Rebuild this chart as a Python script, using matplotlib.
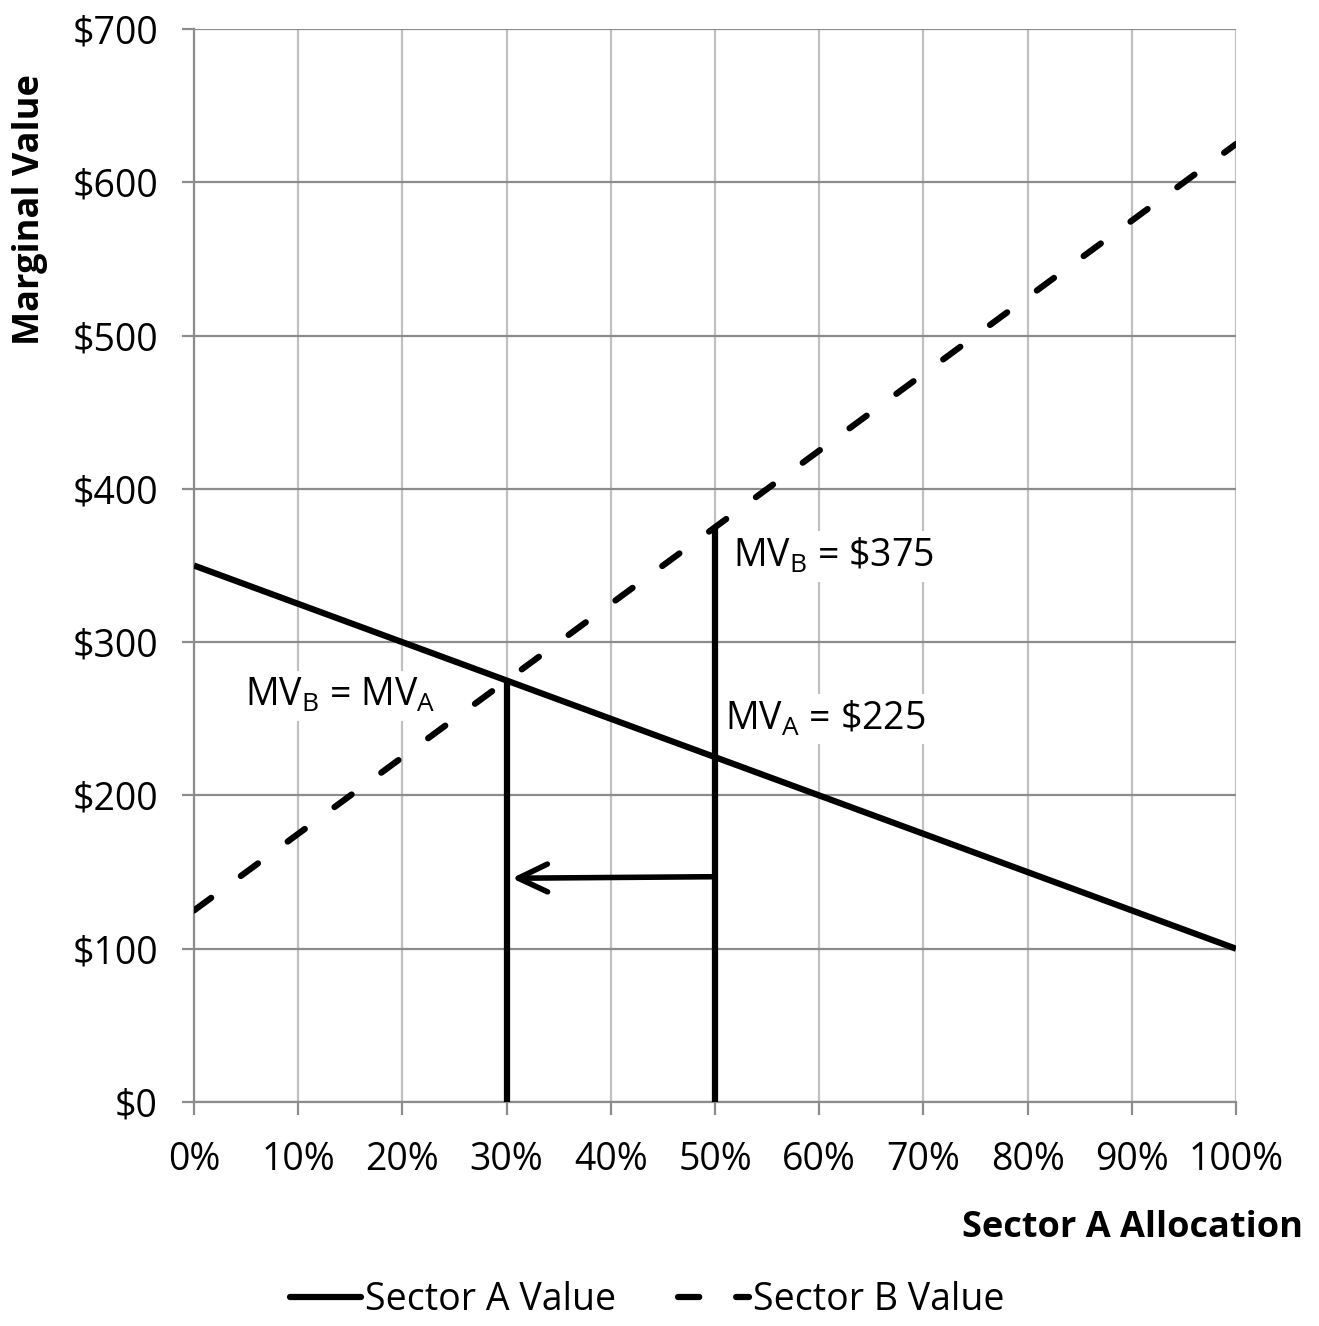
import matplotlib
matplotlib.use("Agg")
import matplotlib.pyplot as plt
import numpy as np
from matplotlib.lines import Line2D

plt.rcParams['font.family'] = ['Open Sans', 'DejaVu Sans']
plt.rcParams['mathtext.fontset'] = 'custom'
plt.rcParams['mathtext.rm'] = 'Open Sans'

# Data
allocation = [0.0, 1.0]                 # Sector A share of the budget
sector_a_value = [350, 100]             # marginal value, Sector A
sector_b_value = [125, 625]             # marginal value, Sector B
equilibrium_x, equilibrium_y = 0.30, 275
start_x, start_a, start_b = 0.50, 225, 375
arrow_from = (0.50, 147)
arrow_to = (0.305, 146)

x_ticks = np.arange(0, 1.01, 0.1)
x_tick_labels = [f"{int(round(t * 100))}%" for t in x_ticks]
y_ticks = np.arange(0, 701, 100)
y_tick_labels = [f"${int(t)}" for t in y_ticks]

fig = plt.figure(figsize=(13.19, 13.26), dpi=100)
ax = fig.add_axes([0.1471, 0.1689, 0.9371 - 0.1471, 0.9781 - 0.1689])

ax.set_xlim(0, 1)
ax.set_ylim(0, 700)
ax.set_xticks(x_ticks)
ax.set_xticklabels(x_tick_labels)
ax.set_yticks(y_ticks)
ax.set_yticklabels(y_tick_labels)

# Excel-style grid: darker horizontal, lighter vertical
ax.yaxis.grid(True, color='#8c8c8c', lw=1.6, zorder=0)
ax.xaxis.grid(True, color='#c0c0c0', lw=1.6, zorder=0)
ax.set_axisbelow(True)
for s in ['top', 'right']:
    ax.spines[s].set_visible(False)
for s in ['left', 'bottom']:
    ax.spines[s].set_color('#8c8c8c')
    ax.spines[s].set_linewidth(1.6)
ax.tick_params(axis='both', direction='out', color='#8c8c8c', width=1.6,
               labelsize=27, labelcolor='black')
ax.tick_params(axis='y', length=9, pad=17)
ax.tick_params(axis='x', length=9, pad=19)

lw = 4.5
dash = (3.4, 5.9)
ax.plot(allocation, sector_a_value, color='black', lw=lw, solid_capstyle='butt',
        zorder=3, label='Sector A Value')
ax.plot(allocation, sector_b_value, color='black', lw=lw, dash_capstyle='round',
        dashes=dash, zorder=3, label='Sector B Value')

# Reallocation markers
ax.plot([equilibrium_x, equilibrium_x], [0, equilibrium_y], color='black', lw=lw,
        solid_capstyle='butt', zorder=4)
ax.plot([start_x, start_x], [0, start_b], color='black', lw=lw,
        solid_capstyle='butt', zorder=4)
ax.annotate('', xy=arrow_to, xytext=arrow_from,
            arrowprops=dict(arrowstyle='->,head_length=1.05,head_width=0.5',
                            color='black', lw=4, mutation_scale=20,
                            shrinkA=0, shrinkB=0), zorder=4)

box = dict(facecolor='white', edgecolor='none', pad=4)
ax.text(0.517, 356, r'MV$_\mathregular{B}$ = \$375', fontsize=27, ha='left',
        va='center', bbox=box, zorder=2)
ax.text(0.510, 250, r'MV$_\mathregular{A}$ = \$225', fontsize=27, ha='left',
        va='center', bbox=box, zorder=2)
ax.text(0.049, 265, r'MV$_\mathregular{B}$ = MV$_\mathregular{A}$', fontsize=27,
        ha='left', va='center', bbox=box, zorder=2)

# Axis titles
fig.text(30 / 1319, 1 - 210 / 1326, 'Marginal Value', rotation=90, fontsize=26,
         fontweight='bold', ha='center', va='center')
fig.text(1303 / 1319, 1 - 1228 / 1326, 'Sector A Allocation', fontsize=26,
         fontweight='bold', ha='right', va='center')

handles = [Line2D([], [], color='black', lw=lw, solid_capstyle='round'),
           Line2D([], [], color='black', lw=lw, dash_capstyle='round', dashes=dash)]
fig.legend(handles, ['Sector A Value', 'Sector B Value'], loc='center',
           bbox_to_anchor=(0.4905, 1 - 1300 / 1326), ncol=2, frameon=False,
           fontsize=27, handlelength=1.9, handletextpad=0.1, columnspacing=1.65)

fig.savefig('out.png', dpi=100, facecolor='white')
